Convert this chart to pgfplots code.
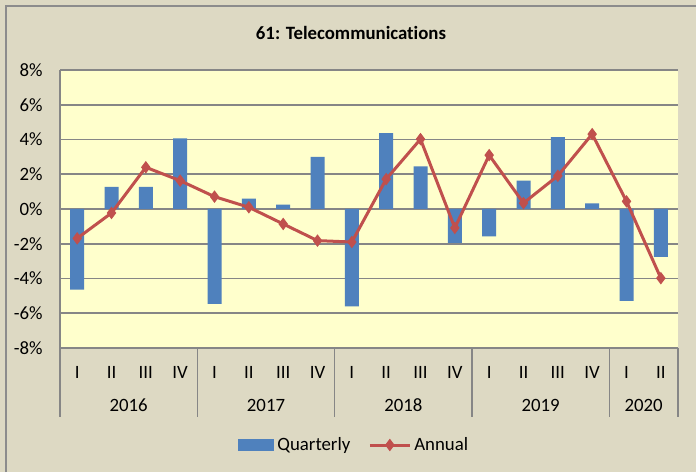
\documentclass[border=0pt]{standalone}
\usepackage{fontspec}
\setmainfont{Carlito}[Ligatures={NoCommon}]
\usepackage{pgfplots}
\usepackage{pgfplotstable}
\pgfplotsset{compat=1.18}
\definecolor{outerbg}{HTML}{DDD9C3}
\definecolor{plotbg}{HTML}{FFFFCC}
\definecolor{gridc}{HTML}{868686}
\definecolor{barblue}{HTML}{4F81BD}
\definecolor{linered}{HTML}{C0504D}
\definecolor{framec}{HTML}{8C8C8C}

\pgfplotstableread{
x q a
0 -4.64 -1.69
1 1.28 -0.23
2 1.28 2.40
3 4.06 1.63
4 -5.46 0.71
5 0.59 0.10
6 0.25 -0.86
7 3.00 -1.82
8 -5.60 -1.90
9 4.37 1.72
10 2.45 4.02
11 -1.95 -1.09
12 -1.57 3.10
13 1.63 0.34
14 4.14 1.91
15 0.33 4.31
16 -5.29 0.44
17 -2.76 -3.98
}\data

\begin{document}
\fontsize{18.8}{22}\selectfont
\begin{tikzpicture}
\useasboundingbox (0pt,0pt) rectangle (696pt,472pt);
\fill[outerbg] (0pt,0pt) rectangle (696pt,472pt);
\draw[framec, line width=2pt] (6pt,0pt) -- (6pt,466pt) -- (696pt,466pt);
\node[font=\bfseries] at (351pt,439pt) {61: Telecommunications};
\begin{axis}[
  at={(60pt,124pt)}, anchor=south west,
  scale only axis, width=618pt, height=278pt,
  xmin=-0.5, xmax=17.5, ymin=-8, ymax=8,
  clip=false,
  axis background/.style={fill=plotbg},
  axis x line*=bottom, axis y line*=left,
  axis line style={gridc, line width=1.6pt},
  ytick={-8,-6,...,8},
  yticklabel={\pgfmathprintnumber{\tick}\%},
  /pgf/number format/assume math mode=true,
  yticklabel style={xshift=-11pt},
  xtick={0,...,17},
  xticklabels={I,II,III,IV,I,II,III,IV,I,II,III,IV,I,II,III,IV,I,II},
  xticklabel style={anchor=center, yshift=-24pt},
  xtick style={draw=none}, ytick style={draw=none},
  ymajorgrids, major grid style={gridc, line width=1.6pt},
  legend style={at={(axis description cs:0.477,-0.349)}, anchor=center,
    draw=none, fill=none, legend columns=2,
    nodes={inner sep=3pt},
    /tikz/every even column/.append style={column sep=15pt}},
]
\addplot[ybar, bar width=14pt, fill=barblue, draw=none,
  legend image code/.code={\fill[barblue] (0pt,-6pt) rectangle (36pt,6pt);}]
  table[x=x,y=q]{\data};
\addlegendentry{Quarterly}
\addplot[linered, line width=3pt, mark=diamond*, mark size=5.5pt,
  mark options={fill=linered, line width=1pt},
  legend image code/.code={\draw[linered, line width=3pt] (0pt,0pt) -- (40pt,0pt);
    \draw[linered, fill=linered, line width=1pt, mark=diamond*, mark size=5.5pt] plot coordinates {(20pt,0pt)};}]
  table[x=x,y=a]{\data};
\addlegendentry{Annual}
\pgfplotsinvokeforeach{-0.5,3.5,7.5,11.5,15.5,17.5}{
  \draw[gridc, line width=1.6pt] (axis cs:#1,-8) -- ++(0pt,-69pt);
}
\node at (axis cs:1.5,-8) [yshift=-57pt] {2016};
\node at (axis cs:5.5,-8) [yshift=-57pt] {2017};
\node at (axis cs:9.5,-8) [yshift=-57pt] {2018};
\node at (axis cs:13.5,-8) [yshift=-57pt] {2019};
\node at (axis cs:16.5,-8) [yshift=-57pt] {2020};
\end{axis}
\end{tikzpicture}
\end{document}
